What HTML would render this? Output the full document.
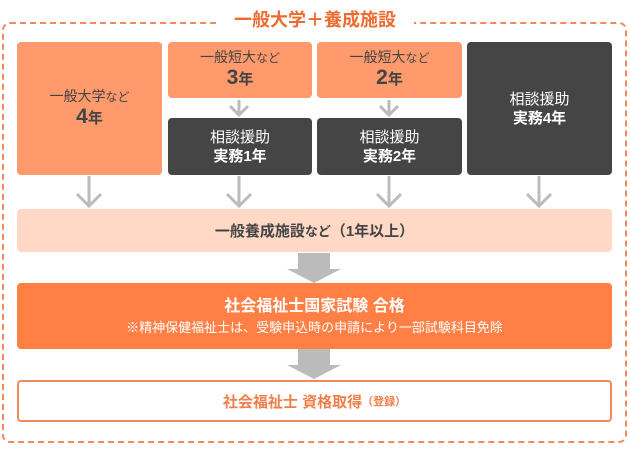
<!DOCTYPE html>
<html><head><meta charset="utf-8"><style>
body{margin:0;width:630px;height:454px;background:#fff;position:relative;overflow:hidden;font-family:"Liberation Sans","Noto Sans CJK JP",sans-serif}
.a{position:absolute;box-sizing:border-box;display:flex;flex-direction:column;align-items:center;justify-content:center;text-align:center;border-radius:4px}
.o{background:#FF9A6C;color:#444}
.d{background:#454545;color:#fff}
.t1{font-size:14px;line-height:17px}
.t2{font-size:21px;font-weight:bold;line-height:22px}
.t3{font-size:15px;font-weight:bold;line-height:19px}
</style></head><body>
<div style="position:absolute;left:2px;top:22px;width:625px;height:421px;border:2px dashed #F08A5D;border-radius:8px;box-sizing:border-box"></div>
<div style="position:absolute;left:216px;top:7px;width:198px;background:#fff;color:#EE6B2F;font-size:18px;font-weight:bold;text-align:center;line-height:26px">一般大学＋養成施設</div>
<div class="a o" style="left:17px;top:42px;width:145px;height:133px"><div class="t1">一般大学<span style="font-size:12px">など</span></div><div class="t2">4<span style="font-size:15px">年</span></div></div>
<div class="a o" style="left:168px;top:42px;width:144px;height:56px"><div class="t1">一般短大<span style="font-size:12px">など</span></div><div class="t2">3<span style="font-size:15px">年</span></div></div>
<div class="a o" style="left:317px;top:42px;width:145px;height:56px"><div class="t1">一般短大<span style="font-size:12px">など</span></div><div class="t2">2<span style="font-size:15px">年</span></div></div>
<div class="a d" style="left:168px;top:118px;width:144px;height:57px"><div class="t1" style="font-size:15px;line-height:19px">相談援助</div><div class="t3">実務1年</div></div>
<div class="a d" style="left:317px;top:118px;width:145px;height:57px"><div class="t1" style="font-size:15px;line-height:19px">相談援助</div><div class="t3">実務2年</div></div>
<div class="a d" style="left:467px;top:42px;width:145px;height:133px"><div class="t1" style="font-size:15px;line-height:19px">相談援助</div><div class="t3">実務4年</div></div>
<svg style="position:absolute;left:0;top:0" width="630" height="454">
<g stroke="#bbb" stroke-width="3" fill="none">
<path d="M239 100V116M230 106L239 115L248 106"/>
<path d="M389 100V116M380 106L389 115L398 106"/>
<path d="M89 176V207M77 194L89 206L101 194"/>
<path d="M239 176V207M227 194L239 206L251 194"/>
<path d="M389 176V207M377 194L389 206L401 194"/>
<path d="M539 176V207M527 194L539 206L551 194"/>
</g>
<g fill="#bbb">
<path d="M298 253H330V269H341L314 283L287 269H298Z"/>
<path d="M298 349H330V365H341L314 379L287 365H298Z"/>
</g>
</svg>
<div class="a" style="left:17px;top:209px;width:595px;height:43px;background:#FFD8C6;color:#444;font-weight:bold"><div style="font-size:15px;white-space:nowrap">一般養成施設<span style="font-size:13px">など</span>（1年以上）</div></div>
<div class="a" style="left:17px;top:283px;width:595px;height:66px;background:#FF7F45;color:#fff"><div style="font-size:16px;font-weight:bold;line-height:22px">社会福祉士国家試験 合格</div><div style="font-size:13px;line-height:19px">※精神保健福祉士は、受験申込時の申請により一部試験科目免除</div></div>
<div class="a" style="left:17px;top:380px;width:595px;height:42px;border:2px solid #F08A5D;background:#fff;color:#F07E4A;flex-direction:row;font-weight:bold"><span style="font-size:15px">社会福祉士 資格取得</span><span style="font-size:11px">（登録）</span></div>
</body></html>
